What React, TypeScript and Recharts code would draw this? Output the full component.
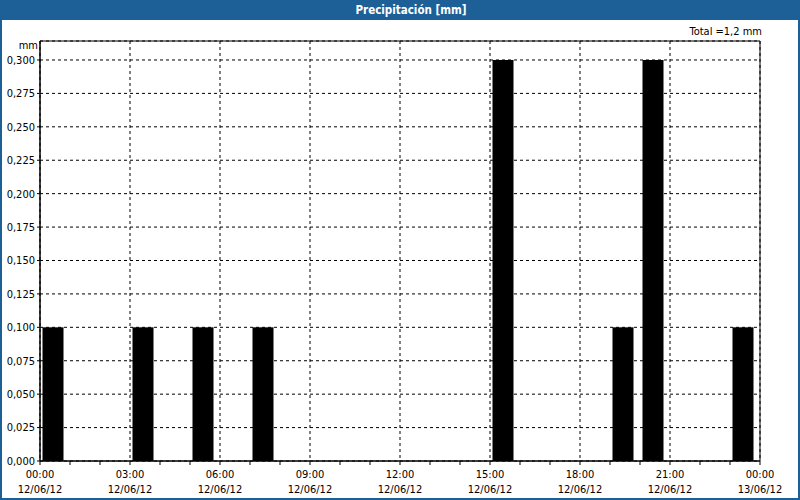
import { BarChart, Bar, XAxis, YAxis, CartesianGrid, ReferenceArea } from 'recharts'

const hours = [0, 1, 2, 3, 4, 5, 6, 7, 8, 9, 10, 11, 12, 13, 14, 15, 16, 17, 18, 19, 20, 21, 22, 23]
const rain = [0.1, 0, 0, 0.1, 0, 0.1, 0, 0.1, 0, 0, 0, 0, 0, 0, 0, 0.3, 0, 0, 0, 0.1, 0.3, 0, 0, 0.1]
const labelTicks = [0, 3, 6, 9, 12, 15, 18, 21, 24]
const hourTicks = [0, 1, 2, 3, 4, 5, 6, 7, 8, 9, 10, 11, 12, 13, 14, 15, 16, 17, 18, 19, 20, 21, 22, 23, 24]
const yTicks = [0, 0.025, 0.05, 0.075, 0.1, 0.125, 0.15, 0.175, 0.2, 0.225, 0.25, 0.275, 0.3]
const yMax = 0.3142
const timeLabels = ['00:00', '03:00', '06:00', '09:00', '12:00', '15:00', '18:00', '21:00', '00:00']
const dateLabels = ['12/06/12', '12/06/12', '12/06/12', '12/06/12', '12/06/12', '12/06/12', '12/06/12', '12/06/12', '13/06/12']

const data = hours.map((h, i) => ({ h, mm: rain[i] }))
const total = rain.reduce((a, b) => a + b, 0)

const FONT = '"DejaVu Sans Condensed", "Liberation Sans", sans-serif'
const BLUE = '#1d5f97'

function TimeTick({ x, y, payload }: any) {
  const i = labelTicks.indexOf(payload.value)
  if (i < 0) return null
  return (
    <text x={x} y={y} textAnchor="middle" fontFamily={FONT} fontSize={11} fill="#000">
      <tspan x={x} dy={11}>{timeLabels[i]}</tspan>
      <tspan x={x} dy={15}>{dateLabels[i]}</tspan>
    </text>
  )
}

// bars start just after the hour mark instead of being centred on it
function HourBar({ x, y, width, height }: any) {
  if (!height) return null
  return <rect x={x + width / 2 + 3} y={y} width={width} height={height} fill="#000" />
}

export default function App() {
  return (
    <div style={{ position: 'relative', width: 800, height: 500, boxSizing: 'border-box', border: `2px solid ${BLUE}`, borderTop: 'none', background: '#fff', fontFamily: FONT }}>
      <style>{'body{margin:0}'}</style>
      <div style={{ position: 'absolute', left: -2, top: 0, width: 800, height: 20, boxSizing: 'border-box', paddingLeft: 22, background: BLUE, color: '#fff', fontWeight: 'bold', fontSize: 11.5, textAlign: 'center', lineHeight: '20px' }}>
        Precipitación [mm]
      </div>
      <div style={{ position: 'absolute', right: 36, top: 25, fontSize: 11 }}>
        Total ={total.toFixed(1).replace('.', ',')} mm
      </div>
      <div style={{ position: 'absolute', left: 0, width: 36, top: 39, fontSize: 11, textAlign: 'right' }}>mm</div>
      <div style={{ position: 'absolute', left: -2, top: 0 }}>
        <BarChart width={800} height={500} data={data} margin={{ top: 41, right: 40, bottom: 0, left: 0 }} barSize={21}>
          <CartesianGrid xAxisId="lab" yAxisId="l" stroke="#000" strokeDasharray="3 3" />
          <XAxis xAxisId="lab" dataKey="h" type="number" domain={[0, 24]} ticks={labelTicks} interval={0} hide />
          <XAxis
            xAxisId="hr"
            dataKey="h"
            type="number"
            domain={[0, 24]}
            ticks={hourTicks}
            tick={<TimeTick />}
            tickSize={4}
            tickLine={{ stroke: '#000' }}
            axisLine={{ stroke: '#000' }}
            interval={0}
            height={39}
          />
          <YAxis
            yAxisId="l"
            type="number"
            domain={[0, yMax]}
            ticks={yTicks}
            interval={0}
            tickFormatter={(v: number) => v.toFixed(3).replace('.', ',')}
            tick={{ fill: '#000', fontSize: 11, fontFamily: FONT }}
            tickSize={3}
            tickLine={{ stroke: '#000' }}
            axisLine={{ stroke: '#000' }}
            width={40}
          />
          <ReferenceArea xAxisId="hr" yAxisId="l" x1={0} x2={24} y1={0} y2={yMax} fill="none" stroke="#000" strokeOpacity={1} fillOpacity={0} />
          <Bar xAxisId="hr" yAxisId="l" dataKey="mm" fill="#000" shape={<HourBar />} isAnimationActive={false} />
        </BarChart>
      </div>
    </div>
  )
}
